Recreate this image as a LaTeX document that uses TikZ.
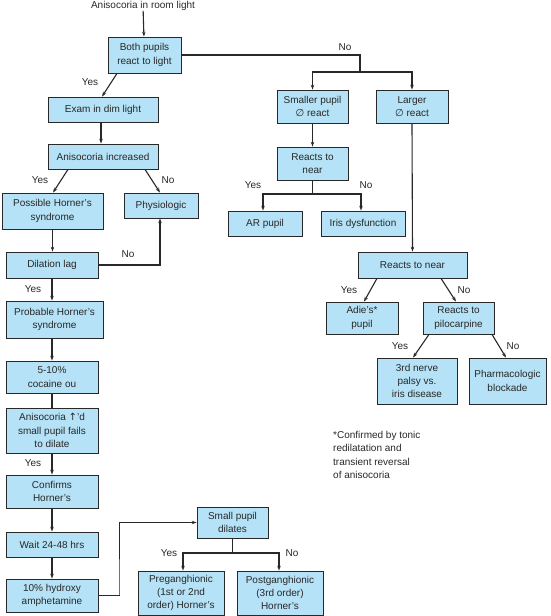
\documentclass[tikz,border=0pt]{standalone}
\usepackage{fontspec}
\setmainfont{Liberation Sans}
\newfontfamily\symfont{DejaVu Sans}
\usetikzlibrary{arrows.meta}
\definecolor{boxfill}{RGB}{181,226,246}
\definecolor{ink}{RGB}{40,40,40}
\begin{document}
\begin{tikzpicture}[x=1pt,y=-1pt,
  every node/.style={font=\fontsize{10}{13.3}\selectfont, text=ink},
  box/.style={draw=ink, line width=0.8pt, fill=boxfill, align=center, inner sep=1pt},
  conn/.style={draw=ink, line width=1.1pt},
  arr/.style={conn, -{Stealth[length=5pt,width=3.5pt]}},
  lbl/.style={inner sep=0pt}]
\useasboundingbox (0,0) rectangle (550,616);
\newcommand{\bx}[6]{\node[box, minimum width=#3, minimum height=#4] (#1) at (#2) {#5};}
\newcommand{\nul}{{\symfont\char"2205}}
% title
\node[lbl] (title) at (143,6) {Anisocoria in room light};
% boxes left
\bx{both}{144.5,55}{73pt}{36pt}{Both pupils\\react to light}{}
\bx{exam}{103,109.5}{110pt}{25pt}{Exam in dim light}{}
\bx{aniso}{103,156.5}{110pt}{25pt}{Anisocoria increased}{}
\bx{possible}{52.5,211}{101pt}{36pt}{Possible Horner's\\syndrome}{}
\bx{physio}{161,205.5}{74pt}{25pt}{Physiologic}{}
\bx{dilation}{52,265}{92pt}{26pt}{Dilation lag}{}
\bx{probable}{54.5,319.5}{97pt}{37pt}{Probable Horner's\\syndrome}{}
\bx{cocaine}{52,377}{92pt}{32pt}{5-10\%\\cocaine ou}{}
\bx{anisod}{52,430.5}{92pt}{45pt}{Anisocoria {\symfont\char"2191}'d\\small pupil fails\\to dilate}{}
\bx{confirms}{52,491.5}{92pt}{33pt}{Confirms\\Horner's}{}
\bx{wait}{52,544.5}{92pt}{25pt}{Wait 24-48 hrs}{}
\bx{hydroxy}{52,595.5}{92pt}{33pt}{10\% hydroxy\\amphetamine}{}
\bx{smalldil}{232.5,522.5}{71pt}{31pt}{Small pupil\\dilates}{}
\bx{pregang}{181,593}{86pt}{44pt}{Preganghionic\\(1st or 2nd\\order) Horner's}{}
\bx{postgang}{280,593}{86pt}{44pt}{Postganghionic\\(3rd order)\\Horner's}{}
% boxes right
\bx{smaller}{312.5,106.5}{71pt}{33pt}{Smaller pupil\\\nul{} react}{}
\bx{larger}{412,106.5}{72pt}{33pt}{Larger\\\nul{} react}{}
\bx{rnearA}{312.5,163.5}{71pt}{33pt}{Reacts to\\near}{}
\bx{ar}{265,223.5}{74pt}{25pt}{AR pupil}{}
\bx{iris}{363,223.5}{84pt}{25pt}{Iris dysfunction}{}
\bx{rnearB}{412.5,265}{109pt}{26pt}{Reacts to near}{}
\bx{adie}{362,318}{72pt}{32pt}{Adie's*\\pupil}{}
\bx{pilo}{458.5,318}{71pt}{32pt}{Reacts to\\pilocarpine}{}
\bx{third}{417,381}{80pt}{46pt}{3rd nerve\\palsy vs.\\iris disease}{}
\bx{pharma}{507.5,381}{77pt}{46pt}{Pharmacologic\\blockade}{}
% footnote
\node[lbl, anchor=north west, align=left] (foot) at (333,431) {*Confirmed by tonic\\redilatation and\\transient reversal\\of anisocoria};
% coordinates
\coordinate (splitA) at (360,72);
\coordinate (splitB) at (312.5,194);
\coordinate (splitC) at (232.5,553);
\coordinate (lagturn) at (160,264);
\coordinate (hyturn) at (119,595);
% connectors
\draw[arr] (title) -- (both);
\draw[conn] (both.east) -| (splitA);
\draw[arr] (splitA) -| (smaller.north);
\draw[arr] (splitA) -| (larger.north);
\draw[arr] ([xshift=-27.5pt]both.south) -- ([xshift=-1pt]exam.north);
\draw[arr] ([xshift=-2pt]exam.south) -- ([xshift=-2pt]aniso.north);
\draw[arr] ([xshift=-35pt]aniso.south) -- ([xshift=0.5pt]possible.north);
\draw[arr] ([xshift=42pt]aniso.south) -- ([xshift=-1pt]physio.north);
\draw[arr] (possible.south) -- ([xshift=0.5pt]dilation.north);
\draw[conn] (dilation.east) -| (lagturn);
\draw[arr] (lagturn) -- ([xshift=-1pt]physio.south);
\draw[arr] (dilation.south) -- ([xshift=-2.5pt]probable.north);
\draw[arr] ([xshift=-2.5pt]probable.south) -- (cocaine.north);
\draw[conn] (cocaine.south) -- (anisod.north);
\draw[arr] (anisod.south) -- (confirms.north);
\draw[arr] (confirms.south) -- (wait.north);
\draw[arr] (wait.south) -- (hydroxy.north);
\draw[draw=ink, line width=0.8pt, -{Stealth[length=5pt,width=3.5pt]}] (hydroxy.east) -| (hyturn) |- (smalldil.west);
\draw[conn] (smalldil.south) -- (splitC);
\draw[arr] (splitC) -| ([xshift=2pt]pregang.north);
\draw[arr] (splitC) -| ([xshift=-1pt]postgang.north);
\draw[arr] (smaller.south) -- (rnearA.north);
\draw[conn] (rnearA.south) -- (splitB);
\draw[arr] (splitB) -| ([xshift=-2pt]ar.north);
\draw[arr] (splitB) -| ([xshift=-2pt]iris.north);
\draw[arr] (larger.south) -- (rnearB.north);
\draw[arr] ([xshift=-35.5pt]rnearB.south) -- ([xshift=2pt]adie.north);
\draw[arr] ([xshift=28.5pt]rnearB.south) -- ([xshift=-2.5pt]pilo.north);
\draw[arr] ([xshift=-29.5pt]pilo.south) -- ([xshift=-4pt]third.north);
\draw[arr] ([xshift=33.5pt]pilo.south) -- ([xshift=-1.5pt]pharma.north);
% labels
\node[lbl] at (345,47) {No};
\node[lbl] at (90,82) {Yes};
\node[lbl] at (40,180) {Yes};
\node[lbl] at (168,180) {No};
\node[lbl] at (128,254) {No};
\node[lbl] at (33,289) {Yes};
\node[lbl] at (33,463) {Yes};
\node[lbl] at (169,553) {Yes};
\node[lbl] at (292,553) {No};
\node[lbl] at (253,185) {Yes};
\node[lbl] at (366,185) {No};
\node[lbl] at (349,290) {Yes};
\node[lbl] at (464,290) {No};
\node[lbl] at (400,346) {Yes};
\node[lbl] at (513,346) {No};
\end{tikzpicture}
\end{document}
